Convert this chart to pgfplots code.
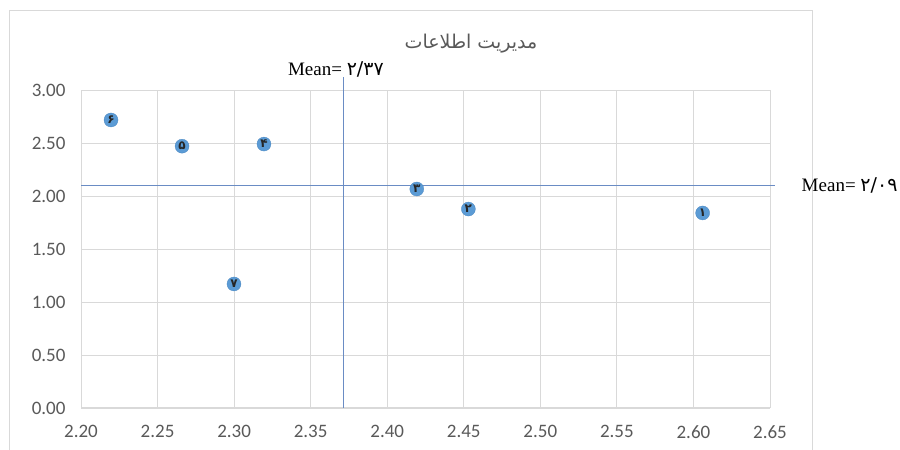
\documentclass[border=0pt]{standalone}
\usepackage{fontspec}
\usepackage{pgfplots}
\pgfplotsset{compat=1.18}
\setmainfont{Liberation Serif}
\newfontfamily\carlito{Carlito}
\newfontfamily\arabicfont[Script=Arabic]{DejaVu Sans}
\TeXXeTstate=1
\definecolor{ptblue}{HTML}{5B9BD5}
\definecolor{ptedge}{HTML}{4A86C0}
\definecolor{meanline}{HTML}{6A8CC4}
\definecolor{gridc}{HTML}{D9D9D9}
\definecolor{txtgray}{HTML}{595959}
\begin{document}
\begin{tikzpicture}[x=1pt,y=1pt]
\useasboundingbox (0,0) rectangle (900,450);
\draw[gridc, line width=1pt] (9,-5) rectangle (812,439);
\node[font=\arabicfont\fontsize{19}{21}\selectfont, text=txtgray] at (471,406) {\beginR مدیریت اطلاعات\endR};
\begin{axis}[
  at={(81pt,42pt)}, anchor=south west,
  scale only axis, width=689pt, height=318pt,
  xmin=2.20, xmax=2.65, ymin=0, ymax=3,
  xtick distance=0.05, ytick distance=0.5,
  grid=major,
  major grid style={gridc, line width=0.9pt},
  axis x line=bottom, axis y line=left,
  x axis line style={-, gridc, line width=1pt},
  y axis line style={draw=none},
  major tick length=0pt,
  tick label style={font=\carlito\fontsize{19}{21}\selectfont, text=txtgray},
  /pgf/number format/assume math mode=true,
  xticklabel style={/pgf/number format/.cd, fixed, fixed zerofill, precision=2},
  yticklabel style={/pgf/number format/.cd, fixed, fixed zerofill, precision=2},
  xticklabel shift=14pt, yticklabel shift=12pt,
  clip=false,
]
\addplot[
  only marks, mark=*, mark size=7pt,
  mark options={fill=ptblue, draw=ptedge, line width=0.3pt},
  point meta=explicit symbolic,
  nodes near coords,
  every node near coord/.append style={anchor=center, inner sep=0pt, yshift=0pt, font=\arabicfont\fontsize{12}{12}\selectfont\bfseries, text=black!85},
] coordinates {
  (2.606,1.84) [۱]
  (2.453,1.877) [۲]
  (2.4193,2.066) [۳]
  (2.3195,2.49) [۴]
  (2.266,2.47) [۵]
  (2.2196,2.717) [۶]
  (2.2999,1.17) [۷]
};
\draw[meanline, line width=0.9pt] (axis cs:2.3717,0) -- (axis cs:2.3717,3.12);
\draw[meanline, line width=0.9pt] (axis cs:2.20,2.10) -- (axis cs:2.653,2.10);
\node[font=\fontsize{19}{21}\selectfont] at (axis cs:2.3665,3.19) {Mean= {\arabicfont ۲/۳۷}};
\node[font=\fontsize{19}{21}\selectfont] at (axis cs:2.702,2.104) {Mean= {\arabicfont ۲/۰۹}};
\end{axis}
\end{tikzpicture}
\end{document}
